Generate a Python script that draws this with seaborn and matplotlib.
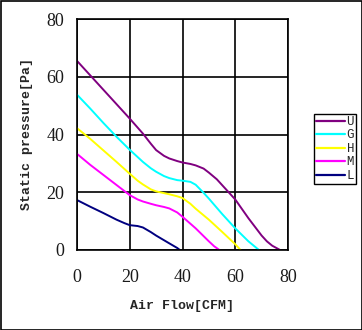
import matplotlib
matplotlib.use("Agg")
import matplotlib.pyplot as plt
import seaborn as sns
import pandas as pd
from matplotlib.lines import Line2D
from matplotlib.patches import Rectangle

series_names = ["U", "G", "H", "M", "L"]
colors = ["#800080", "#00ffff", "#ffff00", "#ff00ff", "#000080"]

u_x = [0, 5, 10, 15, 20, 25, 28, 30, 33, 35, 38, 40, 43, 45, 48, 50, 53, 55, 60, 65, 70, 72, 74, 77]
u_y = [65.5, 60.5, 55.5, 50.5, 45.5, 40.3, 36.8, 34.6, 32.6, 31.7, 30.8, 30.3, 29.8, 29.3, 28.2, 26.8, 24.5, 22.5,
       17.5, 11, 5, 3, 1.5, 0]
g_x = [0, 5, 10, 15, 20, 25, 28, 30, 33, 35, 38, 40, 43, 45, 48, 50, 55, 60, 65, 67, 69]
g_y = [53.8, 49, 44, 39.2, 34.7, 30.5, 28.3, 27.1, 25.6, 24.9, 24.2, 24, 23.6, 22.6, 19.8, 17.8, 12.5, 7.5, 3, 1.5, 0]
h_x = [0, 5, 10, 15, 20, 23, 25, 28, 30, 33, 35, 38, 40, 43, 45, 50, 55, 60, 62]
h_y = [42.2, 38.5, 34.5, 30.5, 26.4, 24, 22.7, 21, 20.3, 19.7, 19.3, 18.6, 18, 16, 14.3, 10.5, 6.3, 2, 0]
m_x = [0, 5, 10, 15, 20, 23, 25, 28, 30, 33, 35, 38, 40, 45, 50, 52, 54]
m_y = [33.3, 29.5, 26, 22.5, 19, 17.5, 16.8, 16, 15.5, 14.9, 14.4, 13, 11.5, 7.5, 3, 1.3, 0]
l_x = [0, 5, 10, 15, 18, 20, 23, 25, 28, 30, 35, 38, 39]
l_y = [17.3, 15, 12.8, 10.5, 9.3, 8.6, 8.3, 7.8, 6.2, 5, 2.3, 0.7, 0]

ticks = [0, 20, 40, 60, 80]

frames = []
for name, xs, ys in zip(series_names, [u_x, g_x, h_x, m_x, l_x], [u_y, g_y, h_y, m_y, l_y]):
    frames.append(pd.DataFrame({"flow": xs, "pressure": ys, "speed": name}))
df = pd.concat(frames, ignore_index=True)

sns.set_style("white")
fig = plt.figure(figsize=(3.62, 3.30), dpi=100)
fig.patches.append(Rectangle((0.5 / 362, 0.5 / 330), 361 / 362, 329 / 330, transform=fig.transFigure,
                             fill=False, edgecolor="black", linewidth=1.2, zorder=10))
ax = fig.add_axes([77 / 362, 80 / 330, 211 / 362, 231 / 330])

sns.lineplot(data=df, x="flow", y="pressure", hue="speed", hue_order=series_names,
             palette=colors, linewidth=1.4, ax=ax, legend=False, sort=False,
             estimator=None)

ax.set_xlim(0, 80)
ax.set_ylim(0, 80)
ax.set_xticks(ticks)
ax.set_yticks(ticks)
ax.set_xticklabels([str(t) for t in ticks])
ax.set_yticklabels([str(t) for t in ticks])
ax.grid(True, color="black", linewidth=1.2)
ax.set_axisbelow(True)
for s in ax.spines.values():
    s.set_color("black")
    s.set_linewidth(1.2)
ax.tick_params(axis="both", length=0, labelsize=13, colors="#1a1a1a")
ax.tick_params(axis="x", pad=14)
ax.tick_params(axis="y", pad=9)
for lab in ax.get_xticklabels() + ax.get_yticklabels():
    lab.set_family("Liberation Serif")

ax.set_xlabel("Air Flow[CFM]", family="Liberation Mono", fontweight="bold", fontsize=9.5, labelpad=10)
ax.set_ylabel("Static pressure[Pa]", family="Liberation Mono", fontweight="bold", fontsize=9.5, labelpad=10)

handles = [Line2D([0], [0], color=c, lw=1.6) for c in colors]
leg = fig.legend(handles, series_names, loc="upper left", bbox_to_anchor=(314 / 362, 1 - 114 / 330),
                 frameon=True, fancybox=False, edgecolor="black", framealpha=1,
                 prop={"family": "Liberation Mono", "size": 9}, handlelength=2.3,
                 handletextpad=0.15, borderpad=0.15, labelspacing=0.12, borderaxespad=0,
                 handleheight=0.7)
leg.get_frame().set_linewidth(1.0)

fig.savefig("out.png", dpi=100)
